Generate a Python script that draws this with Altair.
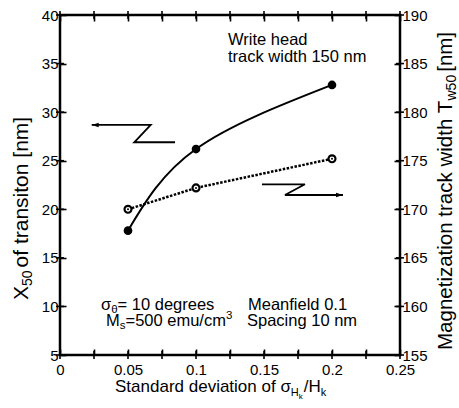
import altair as alt
import pandas as pd

# ---- data ----
sigma_x = [0.05, 0.1, 0.2]
x50_nm = [17.8, 26.2, 32.8]          # left axis, filled circles, solid curve
tw50_nm = [170.0, 172.2, 175.2]      # right axis, open circles, dotted line

x_ticks = [0, 0.025, 0.05, 0.075, 0.1, 0.125, 0.15, 0.175, 0.2, 0.225, 0.25]
y_left_ticks = [5, 10, 15, 20, 25, 30, 35, 40]
y_right_ticks = [155, 160, 165, 170, 175, 180, 185, 190]

# arrow annotations (in left-axis data units)
left_arrow_x = [0.0233, 0.0667, 0.0546, 0.0846]
left_arrow_y = [28.68, 28.68, 26.90, 26.90]
right_arrow_x = [0.1485, 0.1801, 0.1654, 0.2081]
right_arrow_y = [22.57, 22.57, 21.47, 21.47]

FONT = "Liberation Sans"
PAD_L, PAD_T = 60, 15
PW, PH = 340, 340

# ---- rich-text layout helper (Arial/Liberation Sans advance widths, em) ----
W = {' ': .278, '[': .278, ']': .278, '/': .278, '=': .584, '.': .278,
     'H': .722, 'M': .833, 'S': .667, 'T': .611, 'X': .667, 'W': .944,
     'a': .556, 'c': .5, 'd': .556, 'e': .556, 'f': .278, 'g': .556, 'h': .556,
     'i': .222, 'k': .5, 'l': .222, 'm': .833, 'n': .556, 'o': .556, 'p': .556,
     'r': .333, 's': .5, 't': .278, 'u': .556, 'v': .5, 'w': .722, 'z': .5,
     'σ': .617, 'θ': .556}
for dch in "0123456789":
    W[dch] = .556


def tw(s, fs):
    return sum(W.get(c, .556) for c in s) * fs


rows = []


def run_h(x0, y0, parts):
    x = x0
    for text, fs, shift, gap in parts:
        rows.append(dict(px=x - PAD_L, py=y0 + shift - PAD_T, txt=text, fs=fs, ang=0))
        x += tw(text, fs) + gap


def run_v(x0, y0, parts):
    y = y0
    for text, fs, shift, gap in parts:
        rows.append(dict(px=x0 + shift - PAD_L, py=y - PAD_T, txt=text, fs=fs, ang=270))
        y -= tw(text, fs) + gap


run_h(228, 45, [("Write head", 16.5, 0, 0)])
run_h(228, 62, [("track width 150 nm", 16.5, 0, 0)])
run_h(101, 310, [("σ", 16.5, 0, 0), ("θ", 11.5, 3, 0), ("= 10 degrees", 16.5, 0, 0)])
run_h(106, 326, [("M", 16.5, 0, 0), ("s", 11.5, 3, 0), ("=500 emu/cm", 16.5, 0, 0), ("3", 11.5, -7, 0)])
run_h(248, 310, [("Meanfield 0.1", 16.5, 0, 0)])
run_h(247, 326, [("Spacing 10 nm", 16.5, 0, 0)])
run_h(115, 392, [("Standard deviation of σ", 17, 0, 0), ("H", 11, 4, 0), ("k", 8, 7, 1),
                 ("/H", 17, 0, 0), ("k", 11, 4, 0)])
run_v(28, 300, [("X", 21, 0, 0), ("50", 14, 4, 3), (" of transiton [nm]", 21, 0, 0)])
run_v(452, 350, [("Magnetization track width T", 20.5, 0, 0), ("w50", 14, 4, 3), (" [nm]", 20.5, 0, 0)])

texts = pd.DataFrame(rows)

left_df = pd.DataFrame({"s": sigma_x, "v": x50_nm})
right_df = pd.DataFrame({"s": sigma_x, "v": tw50_nm})
arrows = pd.DataFrame({
    "s": left_arrow_x + right_arrow_x,
    "v": left_arrow_y + right_arrow_y,
    "g": ["L"] * 4 + ["R"] * 4,
    "i": list(range(4)) * 2,
})
tip_left = pd.DataFrame({"s": [left_arrow_x[0]], "v": [left_arrow_y[0]]})
tip_right = pd.DataFrame({"s": [right_arrow_x[-1]], "v": [right_arrow_y[-1]]})
xt_df = pd.DataFrame({"s": x_ticks})
ylt_df = pd.DataFrame({"v": y_left_ticks})
yrt_df = pd.DataFrame({"v": y_right_ticks})

xs = alt.Scale(domain=[0, 0.25], nice=False, zero=False)
yl = alt.Scale(domain=[5, 40], nice=False, zero=False)
yr = alt.Scale(domain=[155, 190], nice=False, zero=False)

common = dict(domain=False, grid=False, title=None, tickColor="black", tickWidth=1.6,
              tickSize=6, offset=-6, labelFont=FONT, labelFontSize=15,
              labelColor="black", labelOverlap=False, labelFlush=False, labelBound=False)

ax_bottom = alt.Axis(orient="bottom", values=x_ticks, format=".2~f",
                     labelExpr="round(datum.value*40) % 2 == 0 ? datum.label : ''",
                     labelPadding=7, **common)
ax_top = alt.Axis(orient="top", values=x_ticks, labels=False, **common)
ax_left = alt.Axis(orient="left", values=y_left_ticks, format="d", labelPadding=2, **common)
ax_right = alt.Axis(orient="right", values=y_right_ticks, format="d", labelPadding=2, **common)

curve = alt.Chart(left_df).mark_line(interpolate="natural", color="black", strokeWidth=2).encode(
    x=alt.X("s:Q", scale=xs, axis=ax_bottom),
    y=alt.Y("v:Q", scale=yl, axis=ax_left),
)
filled = alt.Chart(left_df).mark_point(filled=True, shape="circle", size=75, color="black", opacity=1).encode(
    x=alt.X("s:Q", scale=xs, axis=ax_top),
    y=alt.Y("v:Q", scale=yl, axis=None),
)
dotted = alt.Chart(right_df).mark_line(color="black", strokeWidth=2.5, strokeDash=[2.5, 1.5]).encode(
    x=alt.X("s:Q", scale=xs, axis=None),
    y=alt.Y("v:Q", scale=yr, axis=ax_right),
)
opened = alt.Chart(right_df).mark_point(filled=True, shape="circle", size=48, fill="white",
                                        stroke="black", strokeWidth=2.2, opacity=1).encode(
    x=alt.X("s:Q", scale=xs, axis=None),
    y=alt.Y("v:Q", scale=yr, axis=None),
)
centers = alt.Chart(right_df).mark_point(filled=True, shape="circle", size=4, color="black", opacity=1).encode(
    x=alt.X("s:Q", scale=xs, axis=None),
    y=alt.Y("v:Q", scale=yr, axis=None),
)
arrow_lines = alt.Chart(arrows).mark_line(color="black", strokeWidth=1.8).encode(
    x=alt.X("s:Q", scale=xs, axis=None),
    y=alt.Y("v:Q", scale=yl, axis=None),
    detail="g:N",
    order="i:O",
)
head_l = alt.Chart(tip_left).mark_point(shape="M 0 0 L 2 -0.65 L 2 0.65 Z", filled=True, size=49,
                                        color="black", opacity=1).encode(
    x=alt.X("s:Q", scale=xs, axis=None),
    y=alt.Y("v:Q", scale=yl, axis=None),
)
head_r = alt.Chart(tip_right).mark_point(shape="M 0 0 L -2 -0.65 L -2 0.65 Z", filled=True, size=49,
                                         color="black", opacity=1).encode(
    x=alt.X("s:Q", scale=xs, axis=None),
    y=alt.Y("v:Q", scale=yl, axis=None),
)

# inward tick marks on all four sides
tick_kw = dict(color="black", thickness=1.6, size=8, opacity=1)
xt_bottom = alt.Chart(xt_df).mark_tick(**tick_kw).encode(
    x=alt.X("s:Q", scale=xs, axis=None), y=alt.value(PH))
xt_top = alt.Chart(xt_df).mark_tick(**tick_kw).encode(
    x=alt.X("s:Q", scale=xs, axis=None), y=alt.value(0))
yt_left = alt.Chart(ylt_df).mark_tick(**tick_kw).encode(
    y=alt.Y("v:Q", scale=yl, axis=None), x=alt.value(0))
yt_right = alt.Chart(yrt_df).mark_tick(**tick_kw).encode(
    y=alt.Y("v:Q", scale=yr, axis=None), x=alt.value(PW))

labels = alt.Chart(texts).mark_text(align="left", baseline="alphabetic", font=FONT, color="black").encode(
    x=alt.X("px:Q", scale=None, axis=None),
    y=alt.Y("py:Q", scale=None, axis=None),
    text="txt:N",
    size=alt.Size("fs:Q", scale=None, legend=None),
    angle=alt.Angle("ang:Q", scale=None),
)

chart = alt.layer(
    curve, filled, dotted, opened, centers, arrow_lines, head_l, head_r,
    xt_bottom, xt_top, yt_left, yt_right, labels
).resolve_scale(y="independent").properties(
    width=PW, height=PH,
    autosize=alt.AutoSizeParams(type="none"),
    padding={"left": PAD_L, "top": PAD_T, "right": 59, "bottom": 53},
    background="white",
).configure_view(stroke="black", strokeWidth=2.5)

chart.save("out.html", embed_options={"renderer": "svg", "actions": False})
